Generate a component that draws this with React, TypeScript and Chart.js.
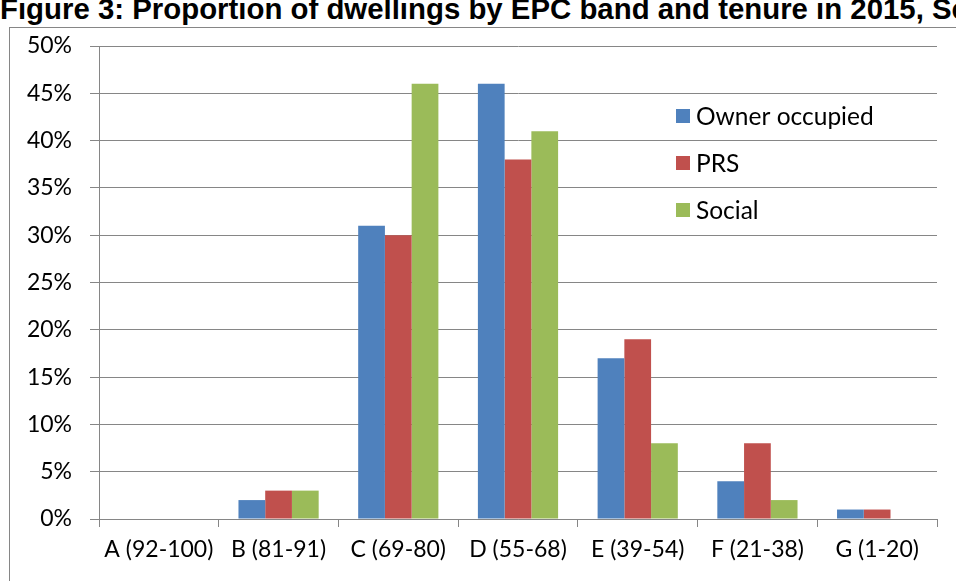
import { useEffect, useRef } from "react";
import { Chart, registerables } from "chart.js";

Chart.register(...registerables);

// EPC bands and share of dwellings (%) per tenure
const bands = ["A (92-100)", "B (81-91)", "C (69-80)", "D (55-68)", "E (39-54)", "F (21-38)", "G (1-20)"];
const ownerOccupied = [0, 2, 31, 46, 17, 4, 1];
const prs = [0, 3, 30, 38, 19, 8, 1];
const social = [0, 3, 46, 41, 8, 2, 0];
const seriesNames = ["Owner occupied", "PRS", "Social"];
const seriesColors = ["#4F81BD", "#C0504D", "#9BBB59"];
const yMax = 50;
const yStep = 5;

const TITLE = "Figure 3: Proportion of dwellings by EPC band and tenure in 2015, Scotland";
const FONT = "Lato, 'Open Sans', sans-serif";
const AXIS_GREY = "#868686";

// Legend drawn inside the plot area, without a background box
const insideLegend = {
  id: "insideLegend",
  afterDatasetsDraw(chart: any) {
    const { ctx, chartArea } = chart;
    const x = chartArea.left + 577;
    const y0 = chartArea.top + 70;
    const gap = 47;
    ctx.save();
    ctx.font = `24.5px ${FONT}`;
    ctx.textBaseline = "middle";
    ctx.textAlign = "left";
    chart.data.datasets.forEach((ds: any, i: number) => {
      const cy = y0 + i * gap;
      ctx.fillStyle = ds.backgroundColor;
      ctx.fillRect(x, cy - 7, 14, 14);
      ctx.fillStyle = "#000";
      ctx.fillText(ds.label, x + 20, cy + 1);
    });
    ctx.restore();
  },
};

export default function App() {
  const canvasRef = useRef<HTMLCanvasElement | null>(null);

  useEffect(() => {
    if (!canvasRef.current) return;
    const values = [ownerOccupied, prs, social];
    const chart = new Chart(canvasRef.current, {
      type: "bar",
      data: {
        labels: bands,
        datasets: values.map((v, i) => ({
          label: seriesNames[i],
          data: v,
          backgroundColor: seriesColors[i],
          borderWidth: 0,
          barPercentage: 1,
          categoryPercentage: 0.67,
        })),
      },
      options: {
        responsive: false,
        animation: false,
        layout: { padding: { top: 46, right: 19, bottom: 0, left: 0 } },
        plugins: {
          legend: { display: false },
          title: { display: false },
          tooltip: { enabled: false },
        },
        scales: {
          x: {
            afterFit: (scale: any) => {
              scale.height = 62;
            },
            grid: {
              offset: true,
              drawOnChartArea: false,
              tickLength: 8,
              color: AXIS_GREY,
            },
            border: { display: true, color: AXIS_GREY },
            ticks: {
              color: "#000",
              padding: 9,
              font: { family: FONT, size: 23 },
              maxRotation: 0,
              autoSkip: false,
            },
          },
          y: {
            min: 0,
            max: yMax,
            afterFit: (scale: any) => {
              scale.width = 99;
            },
            grid: { color: AXIS_GREY, tickLength: 9 },
            border: { display: true, color: AXIS_GREY },
            ticks: {
              stepSize: yStep,
              color: "#000",
              padding: 18,
              font: { family: FONT, size: 23 },
              callback: (v: any) => `${v}%`,
            },
          },
        },
      },
      plugins: [insideLegend],
    });
    return () => chart.destroy();
  }, []);

  return (
    <div
      style={{
        position: "fixed",
        left: 0,
        top: 0,
        width: 956,
        height: 581,
        overflow: "hidden",
        background: "#fff",
      }}
    >
      <div
        style={{
          position: "absolute",
          left: 9,
          top: 27,
          width: 1000,
          height: 600,
          border: `1px solid ${AXIS_GREY}`,
        }}
      />
      <div
        style={{
          position: "absolute",
          left: 0,
          top: -6,
          whiteSpace: "nowrap",
          fontFamily: "'Liberation Sans', Arial, sans-serif",
          fontWeight: "bold",
          fontSize: 29,
          lineHeight: "30px",
          color: "#000",
          transform: "scaleX(1.013)",
          transformOrigin: "left top",
        }}
      >
        {TITLE}
      </div>
      <canvas
        ref={canvasRef}
        width={956}
        height={581}
        style={{ position: "absolute", left: 0, top: 0, display: "block" }}
      />
    </div>
  );
}
